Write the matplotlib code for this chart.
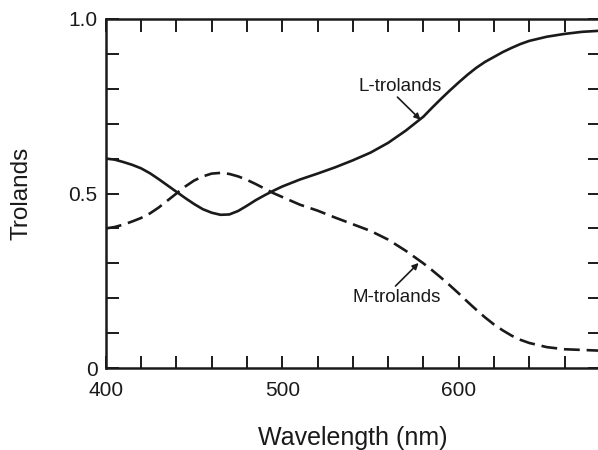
"""L- and M-cone troland fractions as a function of wavelength."""

import matplotlib
matplotlib.use("Agg")
from matplotlib import pyplot as plt
from matplotlib.ticker import FixedLocator, FixedFormatter, MultipleLocator

# wavelength samples (nm)
WAVELENGTH = [400, 405, 410, 415, 420, 425, 430, 435, 440, 445, 450,
              455, 460, 465, 470, 475, 480, 485, 490, 495, 500,
              510, 520, 530, 540, 550, 560, 570,
              575, 580, 585, 590, 595, 600, 605, 610, 615, 620, 625, 630, 635,
              640, 650, 660, 670, 680]

# fraction of trolands carried by the L cones
L_TROLANDS = [0.600, 0.597, 0.590, 0.582, 0.572, 0.558, 0.541, 0.523, 0.505, 0.487, 0.470,
              0.455, 0.445, 0.439, 0.440, 0.450, 0.465, 0.481, 0.495, 0.508, 0.520,
              0.540, 0.557, 0.575, 0.595, 0.617, 0.645, 0.680,
              0.700, 0.720, 0.746, 0.771, 0.795, 0.818, 0.840, 0.860, 0.877, 0.891, 0.905, 0.917, 0.928,
              0.937, 0.949, 0.957, 0.963, 0.966]

# fraction of trolands carried by the M cones
M_TROLANDS = [0.400, 0.404, 0.411, 0.420, 0.430, 0.443, 0.460, 0.480, 0.500, 0.520, 0.537,
              0.549, 0.557, 0.559, 0.556, 0.549, 0.539, 0.527, 0.514, 0.501, 0.490,
              0.468, 0.451, 0.431, 0.412, 0.393, 0.368, 0.336,
              0.318, 0.300, 0.280, 0.259, 0.237, 0.214, 0.190, 0.167, 0.145, 0.125, 0.108, 0.093, 0.081,
              0.072, 0.060, 0.054, 0.052, 0.050]

X_LABELS = ["400", "500", "600"]
X_LABEL_POS = [400, 500, 600]
Y_LABELS = ["0", "0.5", "1.0"]
Y_LABEL_POS = [0.0, 0.5, 1.0]

INK = "#1a1a1a"

plt.rcParams.update({"font.family": ["Liberation Sans", "DejaVu Sans"]})

fig = plt.figure(figsize=(5.98, 4.5), dpi=100)
ax = fig.add_axes([0.177, 0.182, 0.826, 0.776])

ax.plot(WAVELENGTH, L_TROLANDS, color=INK, linewidth=1.9, solid_capstyle="butt")
ax.plot(WAVELENGTH, M_TROLANDS, color=INK, linewidth=1.9,
        dashes=(6, 2.6), dash_capstyle="butt")

ax.set_xlim(400, 680)
ax.set_ylim(0, 1.0)

ax.xaxis.set_major_locator(FixedLocator(X_LABEL_POS))
ax.xaxis.set_major_formatter(FixedFormatter(X_LABELS))
ax.xaxis.set_minor_locator(MultipleLocator(20))
ax.yaxis.set_major_locator(FixedLocator(Y_LABEL_POS))
ax.yaxis.set_major_formatter(FixedFormatter(Y_LABELS))
ax.yaxis.set_minor_locator(MultipleLocator(0.1))

for which in ("major", "minor"):
    ax.tick_params(axis="both", which=which, direction="in", length=9, width=1.4,
                   top=True, right=True, color=INK)
ax.tick_params(axis="x", which="major", labelsize=15, pad=9.5, labelcolor=INK)
ax.tick_params(axis="y", which="major", labelsize=15, pad=6, labelcolor=INK)

for spine in ax.spines.values():
    spine.set_linewidth(1.8)
    spine.set_color(INK)

ax.set_xlabel("Wavelength (nm)", fontsize=18, labelpad=18.5, color=INK)
ax.set_ylabel("Trolands", fontsize=17.5, labelpad=26, color=INK)

# curve labels with short pointer arrows
arrow = dict(arrowstyle="-|>", color=INK, lw=1.2, mutation_scale=9,
             shrinkA=0, shrinkB=0)
ax.text(567, 0.805, "L-trolands", fontsize=13.5, ha="center", va="center", color=INK)
ax.annotate("", xy=(578.4, 0.711), xytext=(565.3, 0.776), arrowprops=arrow)
ax.text(565, 0.203, "M-trolands", fontsize=13.5, ha="center", va="center", color=INK)
ax.annotate("", xy=(577.3, 0.301), xytext=(564.2, 0.235), arrowprops=arrow)

fig.savefig("out.png", dpi=100)
